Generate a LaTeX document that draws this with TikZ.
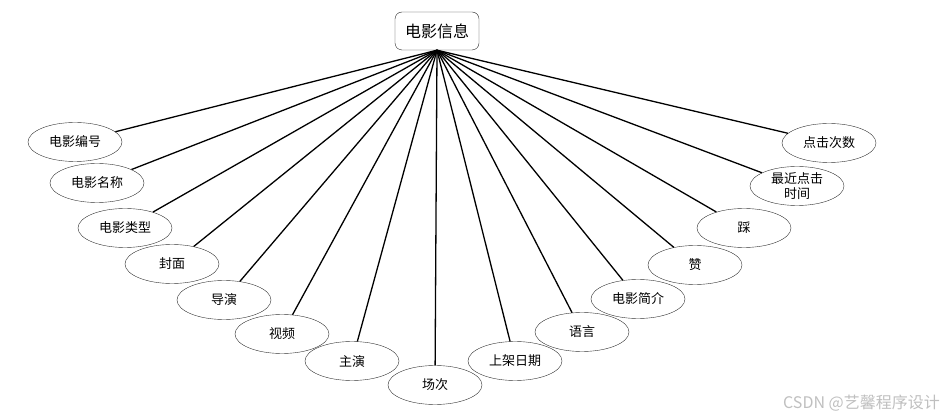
\documentclass[tikz,border=0pt]{standalone}
\usepackage{fontspec}
\setmainfont{Noto Sans CJK SC}
\usetikzlibrary{shapes.geometric}
\begin{document}
\begin{tikzpicture}[x=1pt, y=-1pt,
  attr/.style={draw=black!80, ellipse, minimum width=94pt, minimum height=39pt, inner sep=0pt, align=center, font=\fontsize{13}{15}\selectfont},
  link/.style={line width=1.3pt}]
\useasboundingbox (0,0) rectangle (945,419);
\node[draw=black!85, rounded corners=7pt, minimum width=84pt, minimum height=38pt, font=\fontsize{16}{18}\selectfont] (movie) at (437,31) {电影信息};
\coordinate (hub) at (movie.south);
\node[attr] (bianhao) at (75,142) {电影编号};
\node[attr] (mingcheng) at (97,183) {电影名称};
\node[attr] (leixing) at (125,228) {电影类型};
\node[attr] (fengmian) at (172,264) {封面};
\node[attr] (daoyan) at (224,300) {导演};
\node[attr] (shipin) at (282,334) {视频};
\node[attr] (zhuyan) at (352,361) {主演};
\node[attr] (changci) at (435,385) {场次};
\node[attr] (shangjia) at (515,361) {上架日期};
\node[attr] (yuyan) at (582,332) {语言};
\node[attr] (jianjie) at (638,299) {电影简介};
\node[attr] (zan) at (695,265) {赞};
\node[attr] (cai) at (744,228) {踩};
\node[attr] (zuijin) at (797,186) {最近点击\\时间};
\node[attr] (cishu) at (829,143) {点击次数};
\foreach \n in {bianhao,mingcheng,leixing,fengmian,daoyan,shipin,zhuyan,changci,shangjia,yuyan,jianjie,zan,cai,zuijin,cishu}
  \draw[link] (hub) -- (\n);
\node[text=black!25, font=\fontsize{16}{18}\selectfont, anchor=east, inner sep=0pt] (mark) at (940,403) {CSDN @艺馨程序设计};
\end{tikzpicture}
\end{document}
